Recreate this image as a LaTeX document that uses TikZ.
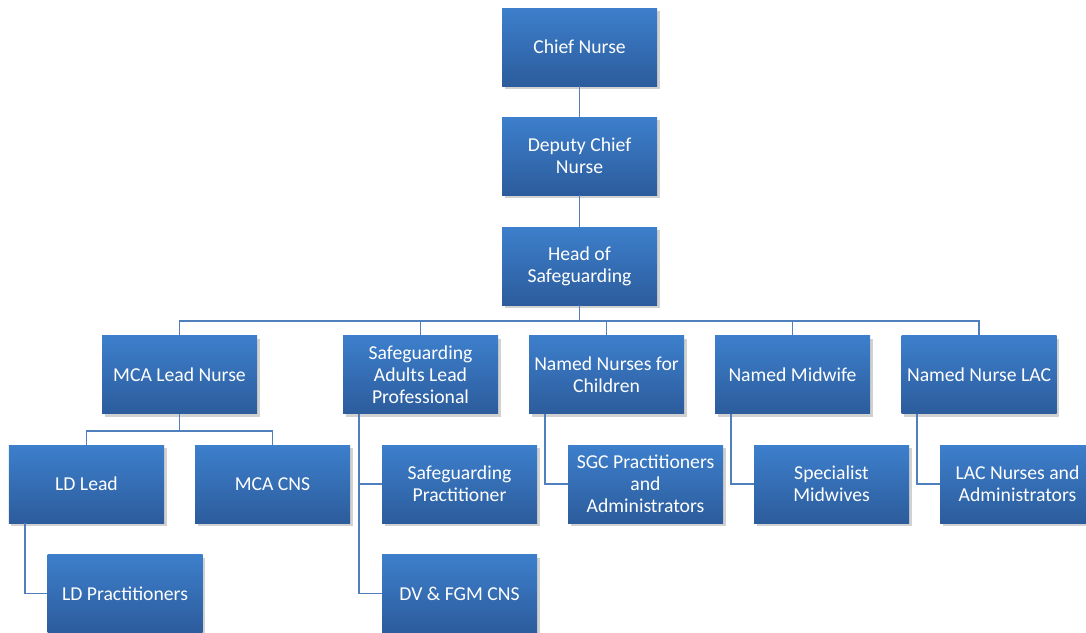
\documentclass[tikz,border=0pt]{standalone}
\usepackage{fontspec}
\setmainfont{Carlito}
\usetikzlibrary{shadows}
\definecolor{boxtop}{HTML}{3D7FCC}
\definecolor{boxbot}{HTML}{2C5C9C}
\definecolor{linkblue}{HTML}{4F7FBD}
\tikzset{
  post/.style={minimum width=3.1cm, minimum height=1.56cm,
    align=center, inner sep=0pt, text=white, top color=boxtop, bottom color=boxbot,
    font=\fontsize{11.2}{12.5}\selectfont,
    drop shadow={shadow xshift=0.05cm, shadow yshift=-0.06cm, opacity=0.3, fill=black!60}},
  link/.style={draw=linkblue, line width=1.1pt}
}
\begin{document}
\begin{tikzpicture}
  \useasboundingbox (0,0) rectangle (21.72,-12.64);
  % top of the chart
  \node[post] (chief)  at (11.59,-0.94) {Chief Nurse};
  \node[post] (deputy) at (11.59,-3.12) {Deputy Chief\\Nurse};
  \node[post] (head)   at (11.59,-5.32) {Head of\\Safeguarding};
  % second row
  \node[post] (mcalead) at (3.59,-7.49)  {MCA Lead Nurse};
  \node[post] (salead)  at (8.41,-7.49)  {Safeguarding\\Adults Lead\\Professional};
  \node[post] (nnchild) at (12.13,-7.49) {Named Nurses for\\Children};
  \node[post] (midwife) at (15.85,-7.49) {Named Midwife};
  \node[post] (nnlac)   at (19.58,-7.49) {Named Nurse LAC};
  % third row
  \node[post] (ldlead)  at (1.73,-9.68)  {LD Lead};
  \node[post] (mcacns)  at (5.45,-9.68)  {MCA CNS};
  \node[post] (sgprac)  at (9.19,-9.68)  {Safeguarding\\Practitioner};
  \node[post] (sgcprac) at (12.91,-9.68) {SGC Practitioners\\and\\Administrators};
  \node[post] (specmw)  at (16.63,-9.68) {Specialist\\Midwives};
  \node[post] (lacadm)  at (20.35,-9.68) {LAC Nurses and\\Administrators};
  % fourth row
  \node[post] (ldprac)  at (2.5,-11.87)  {LD Practitioners};
  \node[post] (dvfgm)   at (9.19,-11.87) {DV \& FGM CNS};
  % connectors
  \draw[link] (chief) -- (deputy);
  \draw[link] (deputy) -- (head);
  \foreach \n in {mcalead,salead,nnchild,midwife,nnlac}
    \draw[link] (head.south) -- ++(0,-0.32) -| (\n.north);
  \foreach \n in {ldlead,mcacns}
    \draw[link] (mcalead.south) -- ++(0,-0.34) -| (\n.north);
  \draw[link] ([xshift=0.32cm]ldlead.south west) |- (ldprac.west);
  \draw[link] ([xshift=0.32cm]salead.south west) |- (sgprac.west);
  \draw[link] ([xshift=0.32cm]salead.south west) |- (dvfgm.west);
  \draw[link] ([xshift=0.32cm]nnchild.south west) |- (sgcprac.west);
  \draw[link] ([xshift=0.32cm]midwife.south west) |- (specmw.west);
  \draw[link] ([xshift=0.32cm]nnlac.south west) |- (lacadm.west);
\end{tikzpicture}
\end{document}
